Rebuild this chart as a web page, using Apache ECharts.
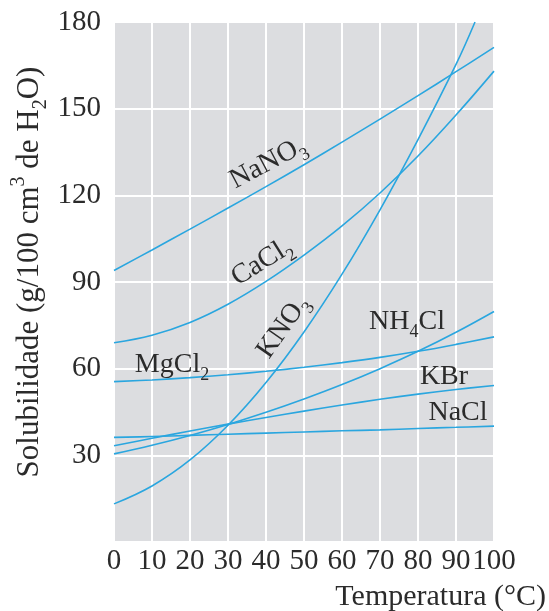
<!DOCTYPE html>
<html>
<head>
<meta charset="utf-8">
<script src="https://cdn.jsdelivr.net/npm/echarts@6/dist/echarts.min.js"></script>
<style>
  html, body { margin: 0; padding: 0; background: #ffffff; }
  #chart { width: 549px; height: 611px; }
</style>
</head>
<body>
<div id="chart"></div>
<script>
// Temperature steps (°C) shared by most curves
const temperatures = [0, 10, 20, 30, 40, 50, 60, 70, 80, 90, 100];
// KNO3 leaves the top of the plot before 100 °C
const kno3Temperatures = [0, 10, 20, 30, 40, 50, 60, 70, 80, 90, 95];

// Solubility in g / 100 cm3 of water
const nano3 = [94, 101.1, 108.3, 115.6, 123, 130.6, 138.4, 146.4, 154.5, 162.8, 171.2];
const cacl2 = [69, 71.6, 76, 82.3, 90.2, 99.3, 109.4, 120.8, 133.6, 147.8, 163];
const kno3 = [13.2, 19.4, 28.4, 40.4, 55.2, 72.7, 92.7, 115, 139.3, 165.3, 180];
const mgcl2 = [55.5, 56.1, 56.9, 57.9, 59.1, 60.5, 62.1, 63.9, 66, 68.4, 71];
const nh4cl = [30.5, 33.5, 36.9, 40.7, 44.9, 49.5, 54.5, 60, 66, 72.6, 79.8];
const kbr = [33.3, 35.9, 38.4, 40.8, 43.1, 45.3, 47.4, 49.4, 51.2, 52.8, 54.2];
const nacl = [36.2, 36.5, 36.9, 37.3, 37.7, 38.1, 38.5, 38.8, 39.3, 39.7, 40.1];

const yTickLabels = [30, 60, 90, 120, 150, 180];

const LINE_COLOR = '#2aa6df';
const TEXT_COLOR = '#2b2b2b';
const FONT = '"Liberation Serif", "DejaVu Serif", serif';

function pairs(xs, ys) {
  return xs.map((x, i) => [x, ys[i]]);
}

function curve(name, xs, ys) {
  return {
    name: name,
    type: 'line',
    data: pairs(xs, ys),
    smooth: 0.4,
    showSymbol: false,
    silent: true,
    lineStyle: { color: LINE_COLOR, width: 1.6 },
    z: 3
  };
}

// Rich-text styles for chemical formulas (subscripts / superscripts)
function formulaRich(size) {
  return {
    sub: { fontSize: size, fontFamily: FONT, fill: TEXT_COLOR, lineHeight: size, verticalAlign: 'bottom' },
    sup: { fontSize: size, fontFamily: FONT, fill: TEXT_COLOR, lineHeight: size, verticalAlign: 'top' }
  };
}

function formulaLabel(text, x, y, deg) {
  return {
    type: 'text',
    x: x,
    y: y,
    rotation: (deg || 0) * Math.PI / 180,
    z: 10,
    style: {
      text: text,
      font: '28px ' + FONT,
      fill: TEXT_COLOR,
      lineHeight: 38,
      align: 'center',
      verticalAlign: 'middle',
      rich: formulaRich(18)
    }
  };
}

const chart = echarts.init(document.getElementById('chart'), null, { renderer: 'canvas' });

chart.setOption({
  animation: false,
  backgroundColor: '#ffffff',
  grid: {
    left: 114,
    top: 22,
    right: 55,
    bottom: 69,
    show: true,
    backgroundColor: '#dcdde0',
    borderWidth: 0
  },
  xAxis: {
    type: 'value',
    min: 0,
    max: 100,
    interval: 10,
    axisLine: { show: false },
    axisTick: { show: false },
    splitLine: { show: true, lineStyle: { color: '#ffffff', width: 2 } },
    axisLabel: {
      color: TEXT_COLOR,
      fontSize: 29,
      fontFamily: FONT,
      margin: 5
    }
  },
  yAxis: {
    type: 'value',
    min: 0,
    max: 180,
    interval: 30,
    axisLine: { show: false },
    axisTick: { show: false },
    splitLine: { show: true, lineStyle: { color: '#ffffff', width: 2 } },
    axisLabel: {
      color: TEXT_COLOR,
      fontSize: 29,
      fontFamily: FONT,
      margin: 13,
      formatter: v => (yTickLabels.indexOf(v) >= 0 ? String(v) : '')
    }
  },
  series: [
    curve('NaNO3', temperatures, nano3),
    curve('CaCl2', temperatures, cacl2),
    curve('KNO3', kno3Temperatures, kno3),
    curve('MgCl2', temperatures, mgcl2),
    curve('NH4Cl', temperatures, nh4cl),
    curve('KBr', temperatures, kbr),
    curve('NaCl', temperatures, nacl)
  ],
  graphic: [
    formulaLabel('NaNO{sub|3}', 268, 163, 28),
    formulaLabel('CaCl{sub|2}', 262, 262, 32),
    formulaLabel('KNO{sub|3}', 283, 327, 55),
    formulaLabel('MgCl{sub|2}', 172, 365, 0),
    formulaLabel('NH{sub|4}Cl', 407, 322, 0),
    formulaLabel('KBr', 444, 377, 0),
    formulaLabel('NaCl', 458, 413, 0),
    // Axis titles
    {
      type: 'text',
      x: 30,
      y: 272,
      rotation: Math.PI / 2,
      style: {
        text: 'Solubilidade (g/100 cm{sup|3} de H{sub|2}O)',
        font: '31px ' + FONT,
        fill: TEXT_COLOR,
        lineHeight: 42,
        align: 'center',
        verticalAlign: 'middle',
        rich: formulaRich(20)
      }
    },
    {
      type: 'text',
      x: 546,
      y: 597,
      style: {
        text: 'Temperatura (°C)',
        font: '30px ' + FONT,
        fill: TEXT_COLOR,
        align: 'right',
        verticalAlign: 'middle'
      }
    }
  ]
});
</script>
</body>
</html>
